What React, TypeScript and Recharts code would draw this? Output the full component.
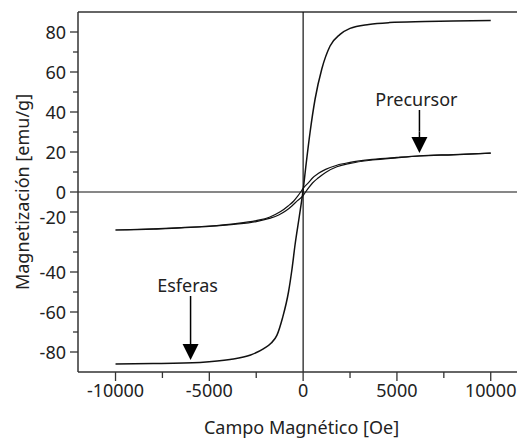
import { Line, LineChart, ReferenceDot, ReferenceLine, XAxis, YAxis } from "recharts"

// Esferas (single narrow loop)
const esferasField = [-10000, -8000, -5500, -3900, -2800, -2100, -1700, -1400, -1100, -780, -600, -425, -200, 0, 160, 372, 638, 995, 1436, 1968, 2500, 3500, 4600, 6500, 8000, 10000]
const esferasMag = [-86, -85.8, -85.2, -83.8, -81.5, -78.3, -75.5, -71.7, -63, -50, -39, -26, -12, 1, 14, 30, 46.5, 61.5, 73, 78.8, 81.8, 83.8, 84.7, 85.2, 85.5, 85.8]

// Precursor, increasing field branch
const precursorUpField = [-10000, -8000, -6500, -5000, -3700, -2500, -1800, -1300, -900, -600, -300, 0, 130, 300, 500, 800, 1200, 1800, 2500, 3700, 5000, 6200, 8000, 10000]
const precursorUpMag = [-19, -18.6, -17.9, -17.2, -16.2, -14.8, -13.2, -11.5, -9.3, -7, -4.3, -1.8, 0, 2.2, 4.5, 7, 9.8, 12.6, 14.3, 16, 17.1, 18, 18.6, 19.4]

// Precursor, decreasing field branch
const precursorDownField = [-10000, -8000, -6500, -5000, -3700, -2500, -1800, -1200, -800, -500, -300, -130, 0, 300, 500, 800, 1200, 1800, 2500, 3700, 5000, 6200, 8000, 10000]
const precursorDownMag = [-19, -18.4, -17.8, -17, -15.9, -14.3, -12.6, -9.8, -7, -4.5, -2.2, 0, 1.8, 4.8, 7, 9.2, 11.3, 13.4, 14.8, 16.3, 17.3, 18.1, 18.7, 19.4]

const xTicks = [-10000, -7500, -5000, -2500, 0, 2500, 5000, 7500, 10000]
const xLabels: Record<number, string> = { [-10000]: "-10000", [-5000]: "-5000", 0: "0", 5000: "5000", 10000: "10000" }

const yTicks = [-80, -70, -60, -50, -40, -30, -20, -10, 0, 10, 20, 30, 40, 50, 60, 70, 80]
const yLabels: Record<number, string> = { 80: "80", 60: "60", 40: "40", 20: "20", 0: "0", [-10]: "-20", [-40]: "-40", [-60]: "-60", [-80]: "-80" }

const annotations = [
  { name: "Precursor", field: 6200, tip: 19.5, top: 41, label: 46.5 },
  { name: "Esferas", field: -6000, tip: -84, top: -52, label: -46.5 },
]

const toPoints = (xs: number[], ys: number[]) => xs.map((x, i) => ({ x, y: ys[i] }))

const esferas = toPoints(esferasField, esferasMag)
const precursorUp = toPoints(precursorUpField, precursorUpMag)
const precursorDown = toPoints(precursorDownField, precursorDownMag)

const FONT = "'Noto Sans', sans-serif"
const AXIS = "#333"

function XTick(props: any) {
  const { x, y, payload } = props
  const label = xLabels[payload.value]
  return (
    <g>
      <line x1={x} x2={x} y1={y} y2={y + (label !== undefined ? 9 : 6)} stroke={AXIS} strokeWidth={1.3} />
      {label !== undefined && (
        <text x={x} y={y + 18} textAnchor="middle" dominantBaseline="central" fontSize={18} fill="#222" fontFamily={FONT}>
          {label}
        </text>
      )}
    </g>
  )
}

function YTick(props: any) {
  const { x, y, payload } = props
  const label = yLabels[payload.value]
  return (
    <g>
      <line x1={x - (label !== undefined ? 8 : 5)} x2={x} y1={y} y2={y} stroke={AXIS} strokeWidth={1.3} />
      {label !== undefined && (
        <text x={x - 12} y={y + (payload.value === -10 ? 5 : 0)} textAnchor="end" dominantBaseline="central" fontSize={18} fill="#222" fontFamily={FONT}>
          {label}
        </text>
      )}
    </g>
  )
}

export default function App() {
  return (
    <div style={{ position: "absolute", left: 0, top: 0, fontFamily: FONT }}>
      <LineChart width={517} height={438} margin={{ top: 12, right: 0, bottom: 0, left: 0 }}>
        <XAxis
          dataKey="x"
          type="number"
          domain={[-12000, 11400]}
          allowDataOverflow
          ticks={xTicks}
          interval={0}
          tickSize={0}
          tickMargin={0}
          tickLine={false}
          tick={<XTick />}
          height={66}
          axisLine={{ stroke: AXIS, strokeWidth: 1.5 }}
          label={{ value: "Campo Magnético [Oe]", position: "insideBottom", offset: 4, dx: 4, fontSize: 18, fill: "#222", fontFamily: FONT }}
        />
        <YAxis
          type="number"
          domain={[-90, 90]}
          allowDataOverflow
          ticks={yTicks}
          interval={0}
          tickSize={0}
          tickMargin={0}
          tickLine={false}
          tick={<YTick />}
          width={78}
          axisLine={{ stroke: AXIS, strokeWidth: 1.5 }}
          label={{
            content: (p: any) => {
              const cy = p.viewBox.y + p.viewBox.height / 2
              return (
                <text x={22} y={cy} transform={`rotate(-90, 22, ${cy})`} textAnchor="middle" dominantBaseline="central" fontSize={18} fill="#222" fontFamily={FONT}>
                  Magnetización [emu/g]
                </text>
              )
            },
          }}
        />
        <ReferenceLine y={90} stroke={AXIS} strokeWidth={1.5} />
        <ReferenceLine y={0} stroke="#111" strokeWidth={1.2} />
        <ReferenceLine x={0} stroke="#111" strokeWidth={1.2} />
        <Line data={precursorUp} dataKey="y" type="monotone" stroke="#111" strokeWidth={1.2} dot={false} isAnimationActive={false} />
        <Line data={precursorDown} dataKey="y" type="monotone" stroke="#111" strokeWidth={1.2} dot={false} isAnimationActive={false} />
        <Line data={esferas} dataKey="y" type="monotone" stroke="#111" strokeWidth={1.5} dot={false} isAnimationActive={false} />
        {annotations.map((a) => (
          <ReferenceLine
            key={a.name + "-shaft"}
            segment={[{ x: a.field, y: a.top }, { x: a.field, y: (a.tip + a.top) / 2 }]}
            stroke="#000"
            strokeWidth={1.5}
          />
        ))}
        {annotations.map((a) => (
          <ReferenceLine
            key={a.name + "-shaft2"}
            segment={[{ x: a.field, y: (a.tip + a.top) / 2 }, { x: a.field, y: a.tip + 4 }]}
            stroke="#000"
            strokeWidth={1.5}
          />
        ))}
        {annotations.map((a) => (
          <ReferenceDot
            key={a.name + "-head"}
            x={a.field}
            y={a.tip}
            r={1}
            shape={(p: any) => (
              <polygon points={`${p.cx - 8},${p.cy - 16} ${p.cx + 8},${p.cy - 16} ${p.cx},${p.cy}`} fill="#000" />
            )}
          />
        ))}
        {annotations.map((a) => (
          <ReferenceDot
            key={a.name + "-label"}
            x={a.field}
            y={a.label}
            r={1}
            shape={(p: any) => (
              <text x={p.cx - 3} y={p.cy} textAnchor="middle" dominantBaseline="central" fontSize={18} fill="#222" fontFamily={FONT}>
                {a.name}
              </text>
            )}
          />
        ))}
      </LineChart>
    </div>
  )
}
